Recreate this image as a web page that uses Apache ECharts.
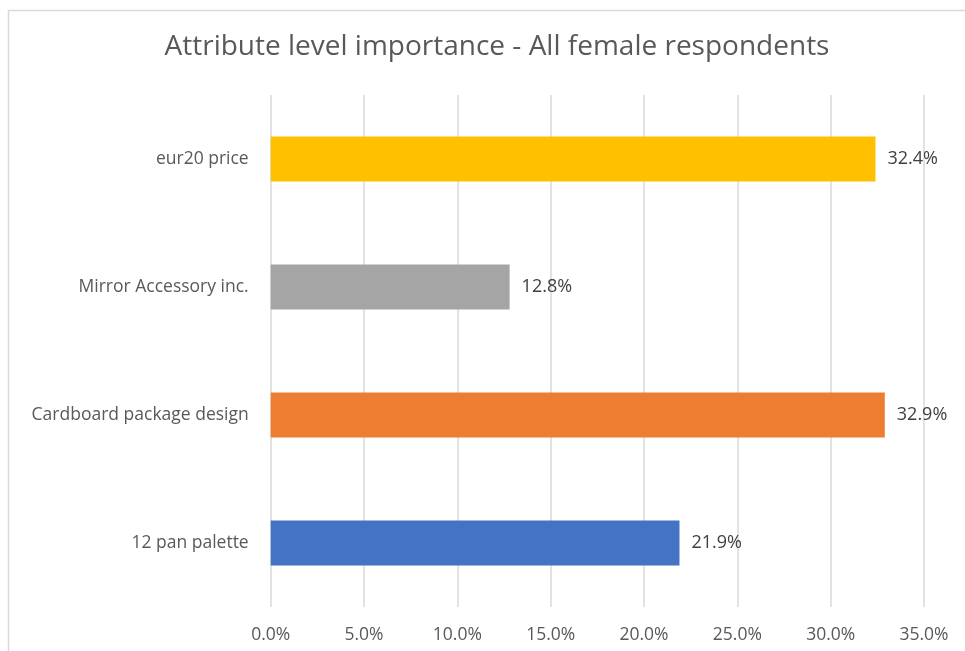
<!DOCTYPE html>
<html>
<head>
<meta charset="utf-8">
<script src="https://cdn.jsdelivr.net/npm/echarts@6/dist/echarts.min.js"></script>
<style>
  html, body { margin: 0; padding: 0; background: #fff; }
  #chart { width: 965px; height: 651px; }
</style>
</head>
<body>
<div id="chart"></div>
<script>
// Attribute names, bottom to top as they appear on the category axis
const categories = ['12 pan palette', 'Cardboard package design', 'Mirror Accessory inc.', 'eur20 price'];
// Importance share per attribute, in percent
const importance = [21.9, 32.9, 12.8, 32.4];
// One fill per attribute bar
const barColors = ['#4472C4', '#ED7D31', '#A5A5A5', '#FFC000'];
// Value axis range and step, in percent
const axisMin = 0;
const axisMax = 35;
const axisStep = 5;

const font = '"Segoe UI", "Open Sans", "Noto Sans", sans-serif';

const chart = echarts.init(document.getElementById('chart'));
chart.setOption({
  animation: false,
  backgroundColor: '#ffffff',
  title: {
    text: 'Attribute level importance - All female respondents',
    left: 492,
    top: 28,
    textAlign: 'center',
    textStyle: { fontFamily: font, fontSize: 28, fontWeight: 'normal', color: '#595959' }
  },
  graphic: [{
    type: 'rect',
    shape: { x: 8.5, y: 10.5, width: 1000, height: 700 },
    style: { fill: 'none', stroke: '#d9d9d9', lineWidth: 1.5 },
    silent: true
  }],
  grid: { left: 270.7, right: 41, top: 95, bottom: 44, containLabel: false },
  xAxis: {
    type: 'value',
    min: axisMin,
    max: axisMax,
    interval: axisStep,
    axisLine: { show: false },
    axisTick: { show: false },
    splitLine: { show: true, lineStyle: { color: '#d9d9d9', width: 1.5 } },
    axisLabel: {
      margin: 19,
      fontFamily: font, fontSize: 17.5, color: '#595959',
      formatter: v => v.toFixed(1) + '%'
    }
  },
  yAxis: {
    type: 'category',
    data: categories,
    axisLine: { show: false },
    axisTick: { show: false },
    axisLabel: { margin: 22, fontFamily: font, fontSize: 17.5, color: '#595959' }
  },
  series: [{
    type: 'bar',
    barWidth: 45,
    data: importance.map((v, i) => ({ value: v, itemStyle: { color: barColors[i] } })),
    label: {
      show: true,
      position: 'right',
      distance: 12,
      fontFamily: font, fontSize: 18, color: '#404040',
      formatter: p => p.value.toFixed(1) + '%'
    }
  }]
});
</script>
</body>
</html>
